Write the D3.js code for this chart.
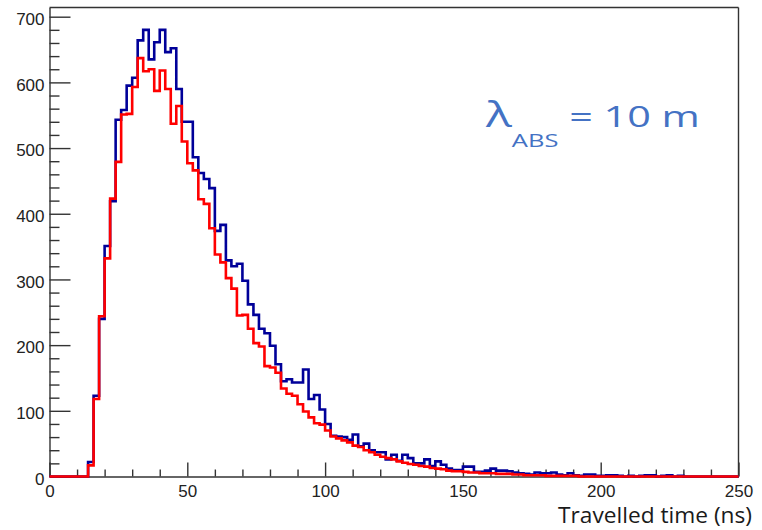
<!DOCTYPE html>
<html>
<head>
<meta charset="utf-8">
<script src="https://cdn.jsdelivr.net/npm/d3@7"></script>
<style>
  html, body { margin: 0; padding: 0; background: #ffffff; }
  svg { display: block; }
</style>
</head>
<body>
<svg id="chart" width="762" height="530"></svg>
<script>
// Histogram of travelled time, 2 ns bins from 0 to 250 ns
const binWidth = 2;
const binStarts = d3.range(0, 250, binWidth);

// Counts per bin (bin i covers [2i, 2i+2) ns)
const blueCounts = [
  0, 0, 0, 0, 0, 0, 0, 22, 123, 240,
  351, 419, 543, 558, 595, 607, 664, 680, 635, 661,
  680, 646, 652, 590, 540, 540, 486, 462, 453, 439,
  374, 383, 329, 320, 324, 298, 262, 246, 225, 218,
  199, 171, 145, 148, 143, 143, 163, 118, 124, 102,
  80, 62, 61, 60, 56, 64, 46, 50, 40, 37,
  37, 26, 33, 24, 33, 28, 20, 20, 26, 16,
  23, 18, 12, 10, 10, 15, 15, 7, 7, 9,
  12, 9, 9, 8, 6, 5, 4, 3, 6, 5,
  5, 6, 3, 2, 5, 2, 1, 3, 3, 1,
  1, 2, 2, 1, 0, 1, 0, 1, 2, 2,
  0, 1, 2, 0, 1, 0, 0, 0, 0, 0,
  0, 0, 0, 0, 0
];
const redCounts = [
  0, 0, 0, 0, 0, 0, 0, 17, 118, 244,
  332, 423, 479, 551, 552, 593, 637, 617, 620, 587,
  618, 590, 537, 564, 510, 477, 466, 422, 415, 378,
  338, 326, 302, 286, 245, 246, 225, 203, 198, 168,
  166, 158, 134, 126, 123, 110, 99, 90, 81, 79,
  70, 61, 58, 55, 52, 47, 45, 40, 37, 33,
  30, 28, 26, 23, 21, 19, 18, 16, 15, 13,
  12, 11, 9, 8, 8, 7, 6, 6, 5, 5,
  5, 4, 4, 4, 3, 3, 2, 2, 2, 2,
  1, 1, 1, 1, 1, 1, 0, 0, 0, 0,
  0, 0, 0, 0, 0, 0, 0, 0, 0, 0,
  0, 0, 0, 0, 0, 0, 0, 0, 0, 0,
  0, 0, 0, 0, 0
];

const xTickValues = [0, 50, 100, 150, 200, 250];
const yTickValues = [0, 100, 200, 300, 400, 500, 600, 700];
const xMinorStep = 10;
const yMinorStep = 20;
const xTitle = "Travelled time (ns)";
const labelSymbol = "λ";
const labelSub = "ABS";
const labelRest = " = 10 m";

const svg = d3.select("#chart");

const x = d3.scaleLinear().domain([0, 250]).range([49.5, 738.5]);
const y = d3.scaleLinear().domain([0, 714]).range([476.5, 7.5]);

const axisColor = "#333333";
const tickFont = "'Liberation Sans', Arial, Helvetica, sans-serif";

// Frame: top and right borders
svg.append("line")
  .attr("x1", x(0)).attr("x2", x(250))
  .attr("y1", y(714)).attr("y2", y(714))
  .attr("stroke", axisColor).attr("stroke-width", 1.4);
svg.append("line")
  .attr("x1", x(250)).attr("x2", x(250))
  .attr("y1", y(714)).attr("y2", y(0))
  .attr("stroke", axisColor).attr("stroke-width", 1.4);

// Y axis: minor ticks
const yMinor = d3.range(0, 714, yMinorStep).filter(v => v % 100 !== 0);
svg.append("g")
  .attr("transform", `translate(${x(0)},0)`)
  .call(d3.axisLeft(y).tickValues(yMinor).tickSize(-10).tickSizeOuter(0).tickFormat(""))
  .call(g => g.select(".domain").remove());

// Y axis: major ticks and labels
const yAxisG = svg.append("g")
  .attr("transform", `translate(${x(0)},0)`)
  .call(d3.axisLeft(y).tickValues(yTickValues).tickSize(-21).tickSizeOuter(0).tickPadding(5));

// X axis: minor ticks
const xMinor = d3.range(0, 251, xMinorStep).filter(v => v % 50 !== 0);
svg.append("g")
  .attr("transform", `translate(0,${y(0)})`)
  .call(d3.axisBottom(x).tickValues(xMinor).tickSize(-7).tickSizeOuter(0).tickFormat(""))
  .call(g => g.select(".domain").remove());

// X axis: major ticks and labels
const xAxisG = svg.append("g")
  .attr("transform", `translate(0,${y(0)})`)
  .call(d3.axisBottom(x).tickValues(xTickValues).tickSize(-14).tickSizeOuter(0).tickPadding(8));

svg.selectAll(".tick line").attr("stroke", axisColor).attr("stroke-width", 1.4);
svg.selectAll(".domain").attr("stroke", axisColor).attr("stroke-width", 1.4);
svg.selectAll(".tick text")
  .attr("font-family", tickFont)
  .attr("font-size", 17)
  .attr("fill", "#222222");
yAxisG.selectAll(".tick text").attr("dy", "0.45em");

// Step outlines of the two histograms
function stepPoints(counts) {
  const pts = binStarts.map((b, i) => [b, counts[i]]);
  pts.push([250, counts[counts.length - 1]]);
  return pts;
}
const stepLine = d3.line()
  .x(d => x(d[0]))
  .y(d => y(d[1]))
  .curve(d3.curveStepAfter);

svg.append("path")
  .datum(stepPoints(blueCounts))
  .attr("d", stepLine)
  .attr("fill", "none")
  .attr("stroke", "#000099")
  .attr("stroke-width", 2.6)
  .attr("stroke-linejoin", "miter");

svg.append("path")
  .datum(stepPoints(redCounts))
  .attr("d", stepLine)
  .attr("fill", "none")
  .attr("stroke", "#ff0000")
  .attr("stroke-width", 2.6)
  .attr("stroke-linejoin", "miter");

// Absorption length annotation
const annoFont = "'Open Sans', 'Noto Sans', sans-serif";
const annoG = svg.append("g");
const anno = annoG.append("text")
  .attr("font-family", annoFont)
  .attr("fill", "#4472C4")
  .attr("font-size", 30);
anno.append("tspan").attr("font-size", 35).text(labelSymbol);
anno.append("tspan").attr("font-size", 18.5).attr("dy", 19.4).text(labelSub);
anno.append("tspan").attr("dy", -19.4).text(labelRest);
const annoW = anno.node().getComputedTextLength();
annoG.attr("transform", `translate(486,127.3) scale(${214 / annoW},1)`);

// X axis title, anchored to the right edge
const titleG = svg.append("g");
const title = titleG.append("text")
  .attr("font-family", annoFont)
  .attr("font-size", 21)
  .attr("fill", "#1a1a1a")
  .attr("text-anchor", "end")
  .text(xTitle);
const titleW = title.node().getComputedTextLength();
titleG.attr("transform", `translate(752,523) scale(${194 / titleW},1)`);
</script>
</body>
</html>
